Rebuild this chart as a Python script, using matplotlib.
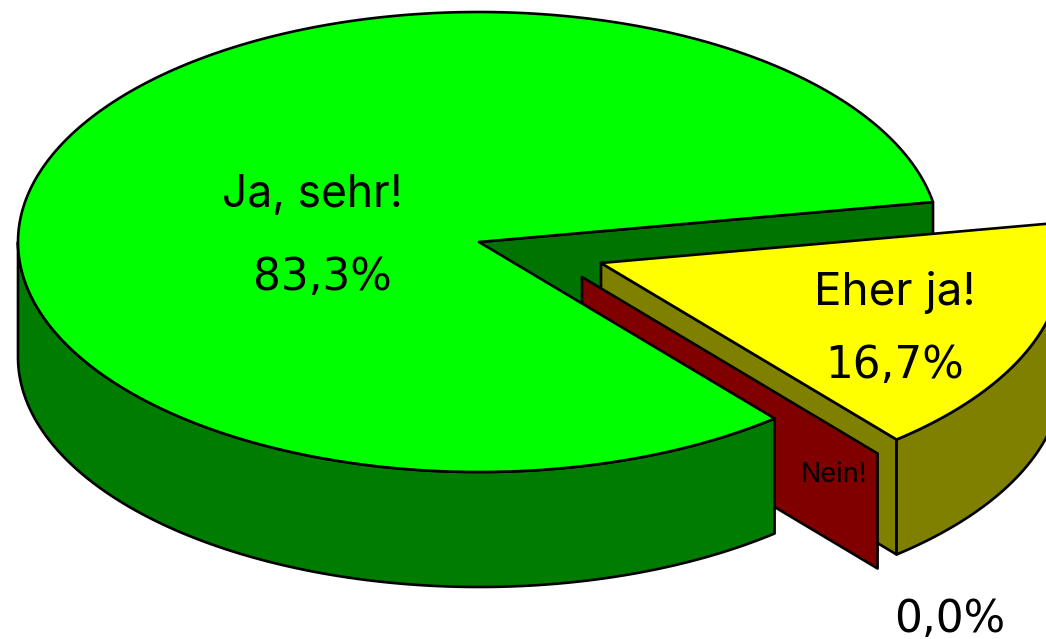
#!/usr/bin/env python3

import numpy as np
import matplotlib
matplotlib.use('Agg')
import matplotlib.pyplot as plt

# Data
labels = ['Ja, sehr!', 'Eher ja!', 'Nein!']
values = [83.3, 16.7, 0.0]
value_labels = ['83,3%', '16,7%', '0,0%']

top_colors = ['#00ff00', '#ffff00', '#ff0000']
side_colors = ['#007c00', '#808000', '#800000']
back_color = '#007400'

# Geometry of the tilted pie, in pixels of the picture
rx = 461
ry = 230
depth = 115
start_angle = 10
centers = [(479, 242), (601, 263), (582, 277)]
line_width = 1.9

plt.rcParams['font.family'] = ['Inter', 'DejaVu Sans']


def pt(center, theta):
    t = np.radians(theta)
    return center[0] + rx * np.cos(t), center[1] - ry * np.sin(t)


def arc(center, t1, t2):
    t = np.linspace(t1, t2, 300)
    return center[0] + rx * np.cos(np.radians(t)), center[1] - ry * np.sin(np.radians(t))


def top(center, t1, t2, color):
    x, y = arc(center, t1, t2)
    ax.fill(np.r_[center[0], x], np.r_[center[1], y], facecolor=color,
            edgecolor='black', lw=line_width, joinstyle='round')


def outer_wall(center, t1, t2, color):
    x, y = arc(center, t1, t2)
    ax.fill(np.r_[x, x[::-1]], np.r_[y, y[::-1] + depth], facecolor=color,
            edgecolor='black', lw=line_width, joinstyle='round')


def cut_wall(center, theta, color):
    x, y = pt(center, theta)
    ax.fill([center[0], x, x, center[0]], [center[1], y, y + depth, center[1] + depth],
            facecolor=color, edgecolor='black', lw=line_width, joinstyle='round')


# Slice angles come from the values, running counter clockwise from start_angle
sweeps = [v / sum(values) * 360 for v in values]
green_end = start_angle + sweeps[0]
yellow_end = green_end + sweeps[1]

fig = plt.figure(figsize=(10.46, 6.39), dpi=100)
ax = fig.add_axes([0, 0, 1, 1])
ax.set_xlim(0, 1046)
ax.set_ylim(639, 0)
ax.axis('off')

# Back to front
cut_wall(centers[0], start_angle, back_color)

cut_wall(centers[1], green_end, side_colors[1])
outer_wall(centers[1], green_end, 360, side_colors[1])
top(centers[1], green_end, yellow_end, top_colors[1])

cut_wall(centers[2], green_end, side_colors[2])

outer_wall(centers[0], 180, green_end, side_colors[0])
top(centers[0], start_angle, green_end, top_colors[0])

# Labels, the percent signs and digits fit better in DejaVu
ax.text(312, 207, labels[0], fontsize=32, ha='center', va='baseline')
ax.text(322, 290, value_labels[0], fontsize=31.5, family='DejaVu Sans', ha='center', va='baseline')
ax.text(895, 305, labels[1], fontsize=33, ha='center', va='baseline')
ax.text(895, 378, value_labels[1], fontsize=31.5, family='DejaVu Sans', ha='center', va='baseline')
ax.text(834, 482, labels[2], fontsize=19.5, ha='center', va='baseline')
ax.text(950, 632, value_labels[2], fontsize=31.5, family='DejaVu Sans', ha='center', va='baseline')

plt.savefig('out.png', dpi=100)
plt.close()
